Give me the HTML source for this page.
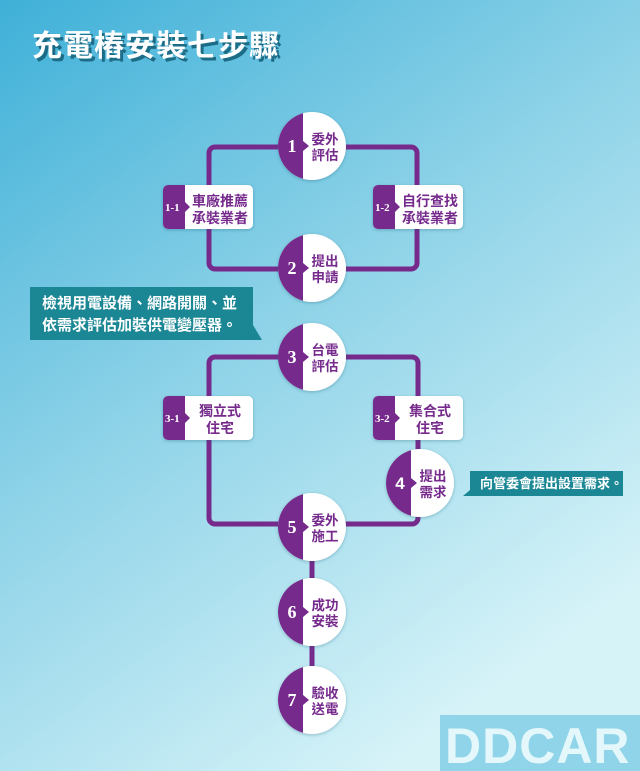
<!DOCTYPE html>
<html><head><meta charset="utf-8"><style>
body{margin:0;width:640px;height:771px;overflow:hidden;}
svg{display:block}
text{font-family:"Liberation Sans","Noto Sans CJK TC",sans-serif;}
</style></head><body>
<svg width="640" height="771" viewBox="0 0 640 771" xmlns="http://www.w3.org/2000/svg">
<defs>
<linearGradient id="bg" x1="0" y1="0" x2="0.6" y2="1">
<stop offset="0" stop-color="#3fb0d8"/><stop offset="0.5" stop-color="#8fd3e8"/><stop offset="1" stop-color="#d6f3f8"/>
</linearGradient>
<filter id="sh" x="-20%" y="-20%" width="140%" height="140%"><feDropShadow dx="0" dy="1" stdDeviation="1.5" flood-color="#1a5a70" flood-opacity="0.35"/></filter>
<clipPath id="cc"><circle cx="0" cy="0" r="34"/></clipPath>
</defs>
<rect width="640" height="771" fill="url(#bg)"/>
<text x="35" y="59" font-size="30" font-weight="bold" fill="#1d6c86" style="font-family:'Noto Sans CJK TC',sans-serif" letter-spacing="1">充電樁安裝七步驟</text>
<text x="32" y="56" font-size="30" font-weight="bold" fill="#fff" style="font-family:'Noto Sans CJK TC',sans-serif" letter-spacing="1">充電樁安裝七步驟</text>

<g fill="none" stroke="#762b8c" stroke-width="5">
<rect x="209" y="147" width="208" height="122" rx="6"/>
<path d="M312 357 H412 a6 6 0 0 1 6 6 V518 a6 6 0 0 1 -6 6 H215 a6 6 0 0 1 -6 -6 V363 a6 6 0 0 1 6 -6 H312"/>
<path d="M312 527 V700"/>
</g>

<g>
<path d="M30 287 H253 V325 L262 340 H30 Z" fill="#1b8795"/>
<text x="42" y="308" font-size="15" font-weight="bold" fill="#fff">檢視用電設備、網路開關、並</text>
<text x="42" y="330" font-size="15" font-weight="bold" fill="#fff">依需求評估加裝供電變壓器。</text>
<path d="M470 471 H623 V496 H463 L470 490 Z" fill="#1b8795"/>
<text x="480" y="488" font-size="13" font-weight="bold" fill="#fff">向管委會提出設置需求。</text>
</g>

<g font-weight="bold">
<g transform="translate(163,185)" filter="url(#sh)"><rect width="90" height="44" rx="5" fill="#fff"/><path d="M5 0 H22 V44 H5 a5 5 0 0 1 -5 -5 V5 a5 5 0 0 1 5 -5Z" fill="#762b8c"/><path d="M22 17 L27 22 L22 27Z" fill="#762b8c"/></g>
<text x="165" y="211" font-size="11" fill="#fff" style="font-family:'Liberation Serif',serif">1-1</text>
<text x="220" y="206" font-size="14" fill="#762b8c" text-anchor="middle">車廠推薦</text>
<text x="220" y="223" font-size="14" fill="#762b8c" text-anchor="middle">承裝業者</text>

<g transform="translate(373,185)" filter="url(#sh)"><rect width="90" height="44" rx="5" fill="#fff"/><path d="M5 0 H22 V44 H5 a5 5 0 0 1 -5 -5 V5 a5 5 0 0 1 5 -5Z" fill="#762b8c"/><path d="M22 17 L27 22 L22 27Z" fill="#762b8c"/></g>
<text x="375" y="211" font-size="11" fill="#fff" style="font-family:'Liberation Serif',serif">1-2</text>
<text x="430" y="206" font-size="14" fill="#762b8c" text-anchor="middle">自行查找</text>
<text x="430" y="223" font-size="14" fill="#762b8c" text-anchor="middle">承裝業者</text>

<g transform="translate(163,396)" filter="url(#sh)"><rect width="90" height="44" rx="5" fill="#fff"/><path d="M5 0 H22 V44 H5 a5 5 0 0 1 -5 -5 V5 a5 5 0 0 1 5 -5Z" fill="#762b8c"/><path d="M22 17 L27 22 L22 27Z" fill="#762b8c"/></g>
<text x="165" y="422" font-size="11" fill="#fff" style="font-family:'Liberation Serif',serif">3-1</text>
<text x="220" y="416" font-size="14" fill="#762b8c" text-anchor="middle">獨立式</text>
<text x="220" y="433" font-size="14" fill="#762b8c" text-anchor="middle">住宅</text>

<g transform="translate(373,396)" filter="url(#sh)"><rect width="90" height="44" rx="5" fill="#fff"/><path d="M5 0 H22 V44 H5 a5 5 0 0 1 -5 -5 V5 a5 5 0 0 1 5 -5Z" fill="#762b8c"/><path d="M22 17 L27 22 L22 27Z" fill="#762b8c"/></g>
<text x="375" y="422" font-size="11" fill="#fff" style="font-family:'Liberation Serif',serif">3-2</text>
<text x="430" y="416" font-size="14" fill="#762b8c" text-anchor="middle">集合式</text>
<text x="430" y="433" font-size="14" fill="#762b8c" text-anchor="middle">住宅</text>
</g>

<g font-weight="bold">
<g transform="translate(312,146)"><circle r="34" fill="#fff" filter="url(#sh)"/><g clip-path="url(#cc)"><rect x="-40" y="-40" width="31" height="80" fill="#762b8c"/></g><path d="M-9 -5 L-3 0 L-9 5Z" fill="#762b8c"/><text x="-20" y="6" font-size="18" fill="#fff" text-anchor="middle" style="font-family:'Liberation Serif',serif">1</text><text x="13" y="-2" font-size="13.5" fill="#762b8c" text-anchor="middle">委外</text><text x="13" y="14" font-size="13.5" fill="#762b8c" text-anchor="middle">評估</text></g>
<g transform="translate(312,268)"><circle r="34" fill="#fff" filter="url(#sh)"/><g clip-path="url(#cc)"><rect x="-40" y="-40" width="31" height="80" fill="#762b8c"/></g><path d="M-9 -5 L-3 0 L-9 5Z" fill="#762b8c"/><text x="-20" y="6" font-size="18" fill="#fff" text-anchor="middle" style="font-family:'Liberation Serif',serif">2</text><text x="13" y="-2" font-size="13.5" fill="#762b8c" text-anchor="middle">提出</text><text x="13" y="14" font-size="13.5" fill="#762b8c" text-anchor="middle">申請</text></g>
<g transform="translate(312,357)"><circle r="34" fill="#fff" filter="url(#sh)"/><g clip-path="url(#cc)"><rect x="-40" y="-40" width="31" height="80" fill="#762b8c"/></g><path d="M-9 -5 L-3 0 L-9 5Z" fill="#762b8c"/><text x="-20" y="6" font-size="18" fill="#fff" text-anchor="middle" style="font-family:'Liberation Serif',serif">3</text><text x="13" y="-2" font-size="13.5" fill="#762b8c" text-anchor="middle">台電</text><text x="13" y="14" font-size="13.5" fill="#762b8c" text-anchor="middle">評估</text></g>
<g transform="translate(420,483)"><circle r="34" fill="#fff" filter="url(#sh)"/><g clip-path="url(#cc)"><rect x="-40" y="-40" width="31" height="80" fill="#762b8c"/></g><path d="M-9 -5 L-3 0 L-9 5Z" fill="#762b8c"/><text x="-20" y="6" font-size="17" fill="#fff" text-anchor="middle">4</text><text x="13" y="-2" font-size="13.5" fill="#762b8c" text-anchor="middle">提出</text><text x="13" y="14" font-size="13.5" fill="#762b8c" text-anchor="middle">需求</text></g>
<g transform="translate(312,527)"><circle r="34" fill="#fff" filter="url(#sh)"/><g clip-path="url(#cc)"><rect x="-40" y="-40" width="31" height="80" fill="#762b8c"/></g><path d="M-9 -5 L-3 0 L-9 5Z" fill="#762b8c"/><text x="-20" y="6" font-size="18" fill="#fff" text-anchor="middle" style="font-family:'Liberation Serif',serif">5</text><text x="13" y="-2" font-size="13.5" fill="#762b8c" text-anchor="middle">委外</text><text x="13" y="14" font-size="13.5" fill="#762b8c" text-anchor="middle">施工</text></g>
<g transform="translate(312,612)"><circle r="34" fill="#fff" filter="url(#sh)"/><g clip-path="url(#cc)"><rect x="-40" y="-40" width="31" height="80" fill="#762b8c"/></g><path d="M-9 -5 L-3 0 L-9 5Z" fill="#762b8c"/><text x="-20" y="6" font-size="18" fill="#fff" text-anchor="middle" style="font-family:'Liberation Serif',serif">6</text><text x="13" y="-2" font-size="13.5" fill="#762b8c" text-anchor="middle">成功</text><text x="13" y="14" font-size="13.5" fill="#762b8c" text-anchor="middle">安裝</text></g>
<g transform="translate(312,700)"><circle r="34" fill="#fff" filter="url(#sh)"/><g clip-path="url(#cc)"><rect x="-40" y="-40" width="31" height="80" fill="#762b8c"/></g><path d="M-9 -5 L-3 0 L-9 5Z" fill="#762b8c"/><text x="-20" y="6" font-size="18" fill="#fff" text-anchor="middle" style="font-family:'Liberation Serif',serif">7</text><text x="13" y="-2" font-size="13.5" fill="#762b8c" text-anchor="middle">驗收</text><text x="13" y="14" font-size="13.5" fill="#762b8c" text-anchor="middle">送電</text></g>
</g>

<rect x="440" y="715" width="200" height="56" fill="#8fd4e8"/>
<text x="445" y="763" font-size="50" font-weight="bold" fill="#e4f8fc" letter-spacing="1">DDCAR</text>
</svg>
</body></html>
